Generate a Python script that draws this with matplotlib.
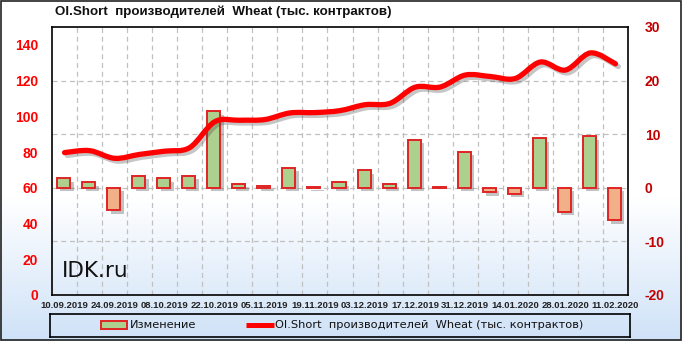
import numpy as np
import matplotlib
matplotlib.use("Agg")
import matplotlib.pyplot as plt
import matplotlib.patheffects as pe
from matplotlib.path import Path
from matplotlib.patches import PathPatch, Rectangle
from matplotlib.colors import LinearSegmentedColormap

dates = ["10.09.2019", "17.09.2019", "24.09.2019", "01.10.2019", "08.10.2019", "15.10.2019",
         "22.10.2019", "29.10.2019", "05.11.2019", "12.11.2019", "19.11.2019", "26.11.2019",
         "03.12.2019", "10.12.2019", "17.12.2019", "24.12.2019", "31.12.2019", "07.01.2020",
         "14.01.2020", "21.01.2020", "28.01.2020", "04.02.2020", "11.02.2020"]
change = [1.8, 1.05, -4.2, 2.2, 1.8, 2.2, 14.3, 0.8, 0.4, 3.7, 0.2, 1.05,
          3.3, 0.8, 9.0, 0.1, 6.7, -0.8, -1.1, 9.2, -4.5, 9.6, -6.1]
oi_short = [79.7, 80.8, 76.5, 78.7, 80.5, 82.5, 97.0, 97.8, 98.2, 101.9, 102.1, 103.2,
            106.5, 107.3, 116.3, 116.4, 123.1, 122.3, 121.2, 130.4, 125.9, 135.5, 129.4]
left_ticks = [0, 20, 40, 60, 80, 100, 120, 140]
right_ticks = [-20, -10, 0, 10, 20, 30]

title = "OI.Short  производителей  Wheat (тыс. контрактов)"
bar_label = "Изменение"
line_label = "OI.Short  производителей  Wheat (тыс. контрактов)"

SANS = ["Liberation Sans", "DejaVu Sans"]
W, H = 682, 341
fig = plt.figure(figsize=(W / 100, H / 100), dpi=100)

# background gradient
bg = fig.add_axes([0, 0, 1, 1], zorder=-10)
bg.axis("off")
ys = np.linspace(0, 1, 341)
grad = np.clip((ys - 0.58) / 0.42, 0, 1)[:, None]
cmap = LinearSegmentedColormap.from_list("bgc", ["#ffffff", "#cfe2f8"])
bg.imshow(grad, aspect="auto", cmap=cmap, extent=[0, 1, 0, 1], origin="upper", vmin=0, vmax=1)
bg.set_xlim(0, 1)
bg.set_ylim(0, 1)
bg.add_patch(Rectangle((0.001, 0.002), 0.997, 0.996, fill=False, edgecolor="#222222", lw=1.2,
                       transform=bg.transAxes))

x = np.arange(len(dates))
L, R, B, T = 52, 628, 295, 27
ax = fig.add_axes([L / W, (H - B) / H, (R - L) / W, (B - T) / H])
ax2 = ax.twinx()
ax.patch.set_alpha(0)
ax2.patch.set_alpha(0)
ax.set_xlim(-0.5, len(dates) - 0.5)
ax.set_ylim(-20, 30)
ax2.set_ylim(0, 150)

colors = ["#aed08f" if v >= 0 else "#f2b088" for v in change]
bars = ax.bar(x - 0.04, change, width=0.52, color=colors, edgecolor="#e02424", linewidth=1.4,
              zorder=3)
for b in bars:
    b.set_path_effects([pe.SimplePatchShadow(offset=(2.5, -2.5), alpha=0.35, shadow_rgbFace="#555555"),
                        pe.Normal()])

ax.yaxis.tick_right()
ax.set_yticks(right_ticks)
ax.set_yticklabels([str(t) for t in right_ticks], color="#c00000", fontsize=10,
                   fontweight="bold", family=SANS)
ax.tick_params(axis="y", length=0, pad=12)
ax.set_xticks(x[::2])
ax.set_xticklabels(dates[::2], fontsize=6.8, fontweight="bold", color="#222222", family=SANS)
ax.tick_params(axis="x", length=0, pad=4)
ax.set_xticks(np.arange(len(dates) - 1) + 0.5, minor=True)
ax.tick_params(axis="x", which="minor", length=0)
ax.grid(True, axis="x", which="minor", color="#c0c0c0", linestyle=(0, (4, 3)), linewidth=0.9)
for t in right_ticks[1:-1]:
    ax.axhline(t, color="#c0c0c0", linestyle=(0, (4, 3)), linewidth=0.9, zorder=1)
for s in ax.spines.values():
    s.set_color("#000000")
    s.set_linewidth(1.2)

ax2.yaxis.tick_left()
ax2.set_yticks(left_ticks)
ax2.set_yticklabels([str(t) for t in left_ticks], color="#ff0000", fontsize=10,
                    fontweight="bold", family=SANS)
ax2.tick_params(axis="y", length=0, pad=10)
for s in ax2.spines.values():
    s.set_visible(False)

# smooth curve through the data points (Catmull-Rom as cubic Bezier)
pts = np.column_stack([x, oi_short]).astype(float)
verts = [tuple(pts[0])]
codes = [Path.MOVETO]
n = len(pts)
for i in range(n - 1):
    p0 = pts[i - 1] if i > 0 else pts[i]
    p1 = pts[i]
    p2 = pts[i + 1]
    p3 = pts[i + 2] if i + 2 < n else pts[i + 1]
    c1 = p1 + (p2 - p0) / 6.0
    c2 = p2 - (p3 - p1) / 6.0
    verts += [tuple(c1), tuple(c2), tuple(p2)]
    codes += [Path.CURVE4] * 3
curve = PathPatch(Path(verts, codes), fill=False, edgecolor="#ff0000", lw=3.8,
                  capstyle="round", joinstyle="round", zorder=5)
curve.set_path_effects([pe.SimpleLineShadow(offset=(2, -2), alpha=0.3, shadow_color="#444444"),
                        pe.Normal()])
ax2.add_patch(curve)

fig.text(55 / W, 1 - 12 / H, title, fontsize=9.6, fontweight="bold", va="center", ha="left",
         color="#111111", family=SANS)
ax.text(10 / (R - L), (B - 271) / (B - T), "IDK.ru", transform=ax.transAxes, fontsize=15.5,
        va="center", ha="left", color="#111111", zorder=6)

# legend (drawn in pixel units of its own box)
lx0, lx1, ly0, ly1 = 50, 630, 314, 337
lax = fig.add_axes([lx0 / W, (H - ly1) / H, (lx1 - lx0) / W, (ly1 - ly0) / H])
lax.set_xlim(lx0, lx1)
lax.set_ylim(ly1, ly0)
lax.set_xticks([])
lax.set_yticks([])
lax.patch.set_alpha(0)
for s in lax.spines.values():
    s.set_color("#000000")
    s.set_linewidth(1.2)
yc = 324.5
lax.add_patch(Rectangle((101, yc - 4), 26, 8, facecolor="#aed08f", edgecolor="#e02424", lw=1.4))
lax.text(130, yc, bar_label, fontsize=8.2, va="center", ha="left", color="#111111",
         family=["Liberation Sans Narrow", "DejaVu Sans"])
lax.plot([246, 274], [yc, yc], color="#ff0000", lw=3.6, solid_capstyle="butt")
lax.text(275, yc, line_label, fontsize=8.2, va="center", ha="left", color="#111111",
         family=["Liberation Sans Narrow", "DejaVu Sans"])

fig.savefig("out.png", dpi=100)
